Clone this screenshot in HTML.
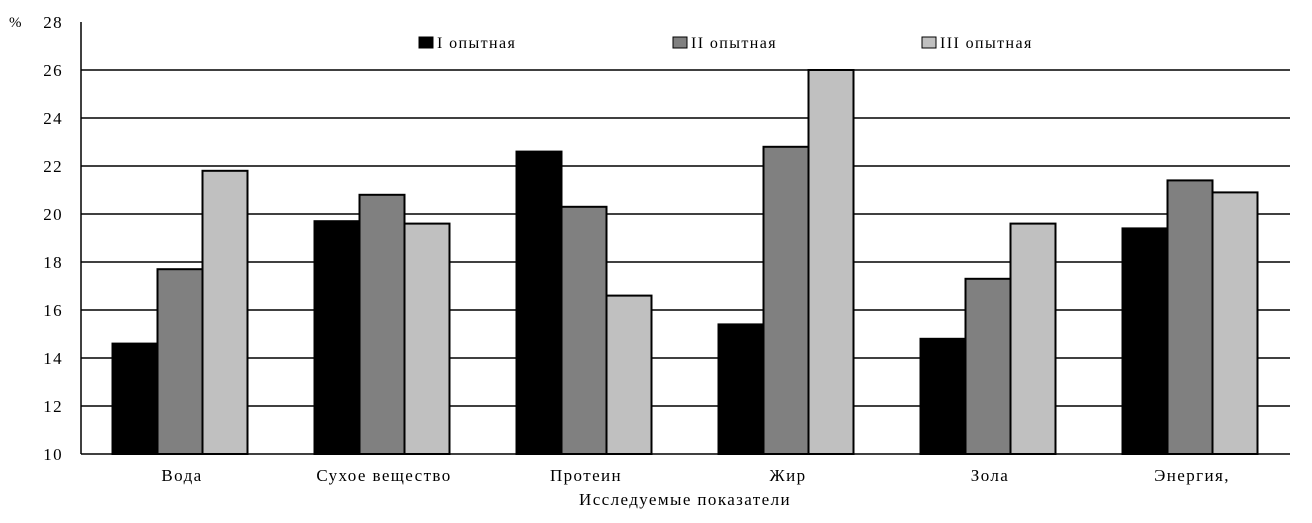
<!DOCTYPE html>
<html><head><meta charset="utf-8"><style>
body{margin:0;background:#fff;}
svg{display:block;font-family:"Liberation Serif",serif;}
text{letter-spacing:1.4px;}
</style></head><body>
<svg id="chart" width="1312" height="523"></svg>
<script>
const categories=["Вода","Сухое вещество","Протеин","Жир","Зола","Энергия,"];
const seriesNames=["I опытная","II опытная","III опытная"];
const series1=[14.6,19.7,22.6,15.4,14.8,19.4];
const series2=[17.7,20.8,20.3,22.8,17.3,21.4];
const series3=[21.8,19.6,16.6,26.0,19.6,20.9];
const yTicks=[10,12,14,16,18,20,22,24,26,28];
const colors=["#000","#808080","#c0c0c0"];
const svg=document.getElementById('chart');
const NS="http://www.w3.org/2000/svg";
const x0=81,x1=1290,y0=454,pxPer=24,yMin=10;
const y=v=>y0-(v-yMin)*pxPer;
const catW=202,firstC=180,bw=45;
const cx=i=>firstC+i*catW;
function mk(t,a){const e=document.createElementNS(NS,t);for(const k in a)e.setAttribute(k,a[k]);svg.appendChild(e);return e;}
yTicks.forEach(t=>{
 if(t!==28&&t!==10){const l=mk('line',{x1:x0,x2:x1,y1:y(t),y2:y(t),stroke:'#000','stroke-width':1.5});
 
 }
 const tx=mk('text',{x:63,y:y(t)+6,'font-size':17,'text-anchor':'end'});tx.textContent=t;
 
 
});
const pc=mk('text',{x:9,y:y(28)+5,'font-size':15});pc.textContent='%';


const all=[series1,series2,series3];
categories.forEach((c,i)=>{
 all.forEach((s,j)=>{
  const r=mk('rect',{x:cx(i)-1.5*bw+j*bw,y:y(s[i]),width:bw,height:y0-y(s[i]),fill:colors[j],stroke:'#000','stroke-width':2});
  
  
 });
 const t=mk('text',{x:cx(i)+2,y:481,'font-size':17,'text-anchor':'middle'});t.textContent=c;
 
 
});
const ax=mk('line',{x1:x0,x2:x0,y1:22,y2:y0,stroke:'#000','stroke-width':1.5});


const bx=mk('line',{x1:x0,x2:x1,y1:y0,y2:y0,stroke:'#000','stroke-width':1.5});


const xt=mk('text',{x:685,y:505,'font-size':17,'text-anchor':'middle'});xt.textContent='Исследуемые показатели';


const lx=[419,673,922];
seriesNames.forEach((n,j)=>{
 const r=mk('rect',{x:lx[j],y:37,width:14,height:11,fill:colors[j],stroke:'#000','stroke-width':1});
 
 
 const t=mk('text',{x:lx[j]+18,y:48,'font-size':16});t.textContent=n;
 
 
});
</script>
</body></html>
